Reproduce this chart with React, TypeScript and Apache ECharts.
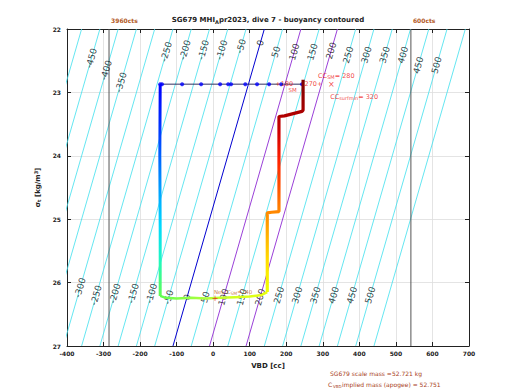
import React, { useEffect, useRef } from "react";
import * as echarts from "echarts";

// ---- data ----
const xTicks = [-400, 700];
const yRange = [22, 27];

const contourLevels = [-500, -450, -400, -350, -300, -250, -200, -150, -100, -50, 0, 50, 100, 150, 200, 250, 300, 350, 400, 450, 500, 550];
const blueLevels = [0];
const purpleLevels = [100, 200];

const topLabelLevels = [-450, -400, -350, -250, -200, -150, -100, -50, 0, 50, 100, 150, 200, 250, 300, 350, 400, 450, 500];
const topLabelSigma = [22.46, 22.65, 22.84, 22.36, 22.33, 22.33, 22.33, 22.27, 22.22, 22.36, 22.36, 22.36, 22.34, 22.41, 22.41, 22.41, 22.41, 22.57, 22.57];
const bottomLabelLevels = [-300, -250, -200, -150, -100, -50, 0, 50, 100, 150, 200, 250, 300, 350, 400, 450, 500];
const bottomLabelSigma = [26.08, 26.2, 26.17, 26.17, 26.17, 26.23, 26.23, 26.23, 26.23, 26.23, 26.23, 26.2, 26.2, 26.2, 26.2, 26.2, 26.2];

// level-0 contour VBD at sigma 27 and the contour slope (cc per sigma unit)
const CONTOUR_VBD_AT_27 = -110;
const CONTOUR_SLOPE = 50;

const countLines = [-285, 541];
const countLabels = ["3960cts", "600cts"];

const surfaceVBD = [243, 186, 153, 120, 88, 49, 41, 19, -33, -85, -140, -145];
const surfaceSigma = 22.87;

const descentVBD = [-145, -146, -145, -145];
const descentSigma = [22.87, 24.0, 25.2, 26.21];

const bottomVBD = [-145, -130, -100, -60, -20, 20, 60, 100, 130, 148];
const bottomSigma = [26.21, 26.24, 26.25, 26.24, 26.25, 26.24, 26.23, 26.22, 26.2, 26.15];

const ascentVBD = [148, 148, 160, 180, 180, 195, 243, 246, 246];
const ascentSigma = [26.15, 24.9, 24.89, 24.88, 23.38, 23.37, 23.3, 23.28, 22.8];

const ccSM = 280;
const ccSurfMin = 320;
const neuC = 240;
const scaleMass = "52.721";
const impliedMass = "52.751";

const contourVBD = (level: number, sigma: number) =>
  level + CONTOUR_VBD_AT_27 + CONTOUR_SLOPE * (27 - sigma);

const FONT = "DejaVu Sans";

export default function App() {
  const ref = useRef<HTMLDivElement>(null);

  useEffect(() => {
    if (!ref.current) return;
    const chart = echarts.init(ref.current, undefined, { renderer: "svg" });

    const contourSeries = contourLevels.map((lv) => {
      let color = "#3ee0ee";
      let width = 0.8;
      let z = 2;
      if (blueLevels.includes(lv)) { color = "#0000d0"; width = 1; z = 3; }
      if (purpleLevels.includes(lv)) { color = "#9a40d8"; width = 1; z = 3; }
      return {
        type: "line",
        silent: true,
        showSymbol: false,
        symbol: "none",
        clip: true,
        z,
        lineStyle: { color, width },
        data: [[contourVBD(lv, yRange[0]), yRange[0]], [contourVBD(lv, yRange[1]), yRange[1]]],
      };
    });

    const labelData = [
      ...topLabelLevels.map((lv, i) => [contourVBD(lv, topLabelSigma[i]), topLabelSigma[i], String(lv)]),
      ...bottomLabelLevels.map((lv, i) => [contourVBD(lv, bottomLabelSigma[i]), bottomLabelSigma[i], String(lv)]),
    ];

    const countSeries = countLines.map((v, i) => ({
      type: "line",
      silent: true,
      symbol: "none",
      z: 4,
      lineStyle: { color: "#555555", width: 1 },
      data: [[v, yRange[0]], [v, yRange[1]]],
      markPoint: {
        symbol: "circle",
        symbolSize: 0,
        label: {
          show: true,
          formatter: countLabels[i],
          position: "right",
          offset: [-3, -9],
          color: "#b35a1f",
          fontSize: 6,
          fontWeight: "bold",
          fontFamily: FONT,
        },
        data: [{ coord: [v, yRange[0]] }],
      },
    }));

    const redText = { color: "#ee1111", fontSize: 6.5, fontFamily: FONT };

    const series: any[] = [
      ...contourSeries,
      ...countSeries,
      {
        type: "scatter",
        silent: true,
        symbolSize: 0,
        z: 5,
        data: labelData,
        label: {
          show: true,
          position: "inside",
          rotate: 74,
          formatter: (p: any) => p.value[2],
          color: "#111",
          fontSize: 9,
          fontFamily: FONT,
        },
      },
      // surface connecting line
      {
        type: "line",
        silent: true,
        symbol: "none",
        z: 8,
        lineStyle: { color: "#303060", width: 1 },
        data: [[surfaceVBD[0], surfaceSigma], [surfaceVBD[surfaceVBD.length - 1], surfaceSigma]],
      },
      // surface dots
      {
        type: "scatter",
        silent: true,
        z: 9,
        symbolSize: 4,
        itemStyle: { color: "#0000ff" },
        data: surfaceVBD.map((v) => [v, surfaceSigma]),
      },
      // descent
      {
        id: "descent",
        type: "line",
        silent: true,
        showSymbol: false,
        z: 10,
        lineStyle: { width: 3 },
        data: descentVBD.map((v, i) => [v, descentSigma[i]]),
      },
      // bottom
      {
        id: "bottom",
        type: "line",
        silent: true,
        showSymbol: false,
        z: 10,
        lineStyle: { width: 2.5 },
        data: bottomVBD.map((v, i) => [v, bottomSigma[i]]),
      },
      // ascent
      {
        id: "ascent",
        type: "line",
        silent: true,
        showSymbol: false,
        z: 10,
        lineStyle: { width: 3.2 },
        data: ascentVBD.map((v, i) => [v, ascentSigma[i]]),
      },
      // annotations
      {
        type: "scatter",
        silent: true,
        symbolSize: 0,
        z: 12,
        data: [
          { value: [170, 22.87], label: { formatter: "+180", align: "left", ...redText } },
          { value: [206, 22.96], label: { formatter: "SM", align: "left", ...redText, fontSize: 5.5 } },
          { value: [250, 22.87], label: { formatter: "270+", align: "left", ...redText } },
          {
            value: [287, 22.74],
            label: {
              formatter: `{a|CC}{s|SM}{a|= ${ccSM}}`,
              align: "left",
              rich: {
                a: { ...redText },
                s: { ...redText, fontSize: 5, verticalAlign: "bottom", padding: [3, 0, 0, 0] },
              },
            },
          },
          { value: [323, 22.88], label: { formatter: "×", align: "center", ...redText, fontSize: 8 } },
          {
            value: [320, 23.07],
            label: {
              formatter: `{a|CC}{s|surfmin}{a|= ${ccSurfMin}}`,
              align: "left",
              rich: {
                a: { ...redText },
                s: { ...redText, fontSize: 5, verticalAlign: "bottom", padding: [3, 0, 0, 0] },
              },
            },
          },
          { value: [5, 26.25], label: { formatter: "+", align: "center", ...redText, fontSize: 8 } },
          {
            value: [2, 26.15],
            label: {
              formatter: `{a|Neu C}{s|SM}{a|=${neuC}}`,
              align: "left",
              rich: {
                a: { color: "#c0601a", fontSize: 5.5, fontFamily: FONT },
                s: { color: "#c0601a", fontSize: 4.5, fontFamily: FONT, verticalAlign: "bottom", padding: [2, 0, 0, 0] },
              },
            },
          },
        ],
        label: { show: true, position: "inside" },
      },
    ];

    const axisLabelStyle = { fontSize: 6, fontWeight: "bold", color: "#222", fontFamily: FONT };
    const brown = "#a8401a";

    chart.setOption({
      animation: false,
      backgroundColor: "#ffffff",
      grid: { left: 67, top: 29, width: 402, height: 317, containLabel: false },
      xAxis: [
        {
          type: "value",
          min: xTicks[0],
          max: xTicks[1],
          interval: 100,
          position: "bottom",
          axisLine: { show: true, onZero: false, lineStyle: { color: "#222", width: 1 } },
          axisTick: { show: true, inside: true, length: 4, lineStyle: { color: "#222" } },
          axisLabel: { ...axisLabelStyle, margin: 4 },
          splitLine: { show: true, lineStyle: { color: "#dddddd", width: 0.8 } },
          name: "VBD [cc]",
          nameLocation: "middle",
          nameGap: 16,
          nameTextStyle: { fontSize: 7, fontWeight: "bold", color: "#222", fontFamily: FONT },
        },
        {
          type: "value",
          min: xTicks[0],
          max: xTicks[1],
          interval: 100,
          position: "top",
          axisLine: { show: true, onZero: false, lineStyle: { color: "#222", width: 1 } },
          axisTick: { show: true, inside: true, length: 4, lineStyle: { color: "#222" } },
          axisLabel: { show: false },
          splitLine: { show: false },
        },
      ],
      yAxis: [
        {
          type: "value",
          inverse: true,
          min: yRange[0],
          max: yRange[1],
          interval: 1,
          position: "left",
          axisLine: { show: true, onZero: false, lineStyle: { color: "#222", width: 1 } },
          axisTick: { show: true, inside: true, length: 4, lineStyle: { color: "#222" } },
          axisLabel: { ...axisLabelStyle, margin: 6 },
          splitLine: { show: true, lineStyle: { color: "#dddddd", width: 0.8 } },
          name: "{a|σ}{s|t}{a| [kg/m}{p|3}{a|]}",
          nameLocation: "middle",
          nameGap: 15,
          nameRotate: 90,
          nameTextStyle: {
            rich: {
              a: { fontSize: 7, fontWeight: "bold", color: "#222", fontFamily: FONT },
              s: { fontSize: 5, fontWeight: "bold", color: "#222", fontFamily: FONT, verticalAlign: "bottom", padding: [3, 0, 0, 0] },
              p: { fontSize: 5, fontWeight: "bold", color: "#222", fontFamily: FONT, verticalAlign: "top", padding: [0, 0, 3, 0] },
            },
          },
        },
        {
          type: "value",
          inverse: true,
          min: yRange[0],
          max: yRange[1],
          interval: 1,
          position: "right",
          axisLine: { show: true, onZero: false, lineStyle: { color: "#222", width: 1 } },
          axisTick: { show: true, inside: true, length: 4, lineStyle: { color: "#222" } },
          axisLabel: { show: false },
          splitLine: { show: false },
        },
      ],
      visualMap: [
        {
          type: "continuous",
          show: false,
          seriesId: "descent",
          dimension: 1,
          min: descentSigma[0],
          max: descentSigma[descentSigma.length - 1],
          inRange: { color: ["#0000ff", "#0028ff", "#0060ff", "#00a0ff", "#00d8ff", "#20f8c0", "#60ff50"] },
        },
        {
          type: "continuous",
          show: false,
          seriesId: "bottom",
          dimension: 0,
          min: bottomVBD[0],
          max: bottomVBD[bottomVBD.length - 1],
          inRange: { color: ["#60ff50", "#a0ff40", "#d0ff20", "#e8ff10"] },
        },
        {
          type: "continuous",
          show: false,
          seriesId: "ascent",
          dimension: 1,
          min: ascentSigma[ascentSigma.length - 1],
          max: ascentSigma[0],
          inRange: { color: ["#800000", "#a00000", "#d00000", "#ff2000", "#ff5000", "#ff8800", "#ffb800", "#ffe400", "#eeff00"] },
        },
      ],
      graphic: [
        {
          type: "text",
          x: 268,
          y: 20,
          style: {
            text: "{a|SG679 MHI}{s|A}{a|pr2023, dive 7 - buoyancy contoured}",
            align: "center",
            verticalAlign: "middle",
            rich: {
              a: { fontSize: 7, fontWeight: "bold", fill: "#222", fontFamily: FONT },
              s: { fontSize: 5, fontWeight: "bold", fill: "#222", fontFamily: FONT, verticalAlign: "bottom", padding: [3, 0, 0, 0] },
            },
          },
        },
        {
          type: "text",
          x: 330,
          y: 370,
          style: {
            text: `SG679 scale mass =${scaleMass} kg`,
            fontSize: 6,
            fill: brown,
            fontFamily: FONT,
          },
        },
        {
          type: "text",
          x: 328,
          y: 381,
          style: { text: "C", fontSize: 6, fill: brown, fontFamily: FONT },
        },
        {
          type: "text",
          x: 333,
          y: 384,
          style: { text: "VBD", fontSize: 4, fill: brown, fontFamily: FONT },
        },
        {
          type: "text",
          x: 342,
          y: 381,
          style: { text: `implied mass (apogee) = ${impliedMass}`, fontSize: 6, fill: brown, fontFamily: FONT },
        },
      ],
      series,
    });

    return () => chart.dispose();
  }, []);

  return (
    <div
      ref={ref}
      style={{ position: "absolute", left: 0, top: 0, width: 520, height: 390, overflow: "hidden" }}
    />
  );
}
